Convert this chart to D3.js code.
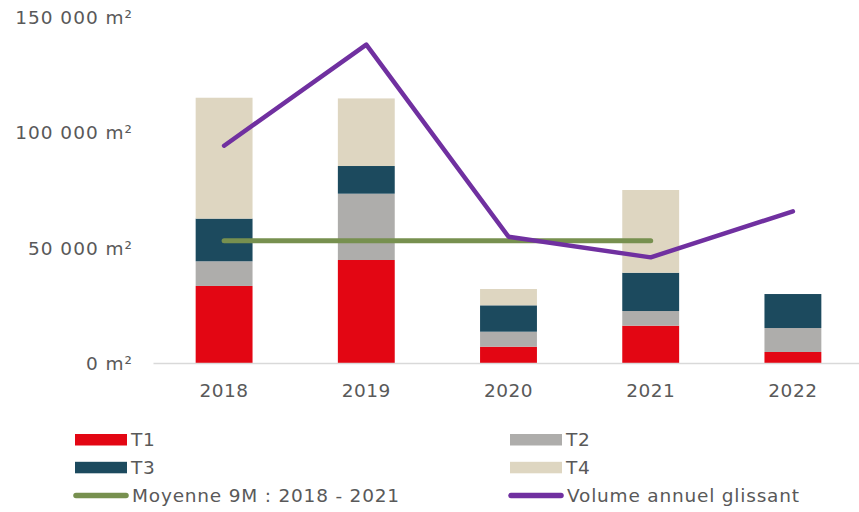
<!DOCTYPE html>
<html>
<head>
<meta charset="utf-8">
<script src="https://cdn.jsdelivr.net/npm/d3@7"></script>
<style>
    body { margin: 0; background: #fff; }
    svg { display: block; }
    svg text { font-family: "DejaVu Sans", sans-serif; fill: #595959; font-size: 18.5px; letter-spacing: 0.5px; }
    .yaxis text { letter-spacing: 1px; }
    .legend text { letter-spacing: 0.8px; }
</style>
</head>
<body>
<div id="chart"></div>
<script>
// categories
var years = ["2018", "2019", "2020", "2021", "2022"];
// stacked series (m²)
var t1 = [33400, 44650, 7070, 16170, 4770],
    t2 = [10700, 28750, 6500, 6370, 10400],
    t3 = [18500, 12000, 11430, 16600, 14730],
    t4 = [52400, 29300, 7080, 35860, 0];
// line series
var moyenne = [53000, 53000, 53000, 53000, null],
    volume = [94200, 138000, 54750, 45800, 65750];
var yTicks = [0, 50000, 100000, 150000];

var width = 859,
    height = 512;

var seriesKeys = ["T1", "T2", "T3", "T4"],
    seriesColors = { T1: "#e30613", T2: "#aeadab", T3: "#1c4a5e", T4: "#ded6c1" };

var rows = years.map(function (y, i) {
    return { year: y, T1: t1[i], T2: t2[i], T3: t3[i], T4: t4[i] };
});

var svg = d3.select("#chart").append("svg")
    .attr("width", width)
    .attr("height", height);

var x = d3.scaleBand()
    .domain(years)
    .range([153, 864])
    .paddingInner(0.6)
    .paddingOuter(0.3);

var y = d3.scaleLinear()
    .domain([0, 150000])
    .range([363, 17]);

var fr = d3.formatLocale({ decimal: ",", thousands: "\u00a0", grouping: [3], currency: ["", " €"] });
var fmt = fr.format(",");

// y axis labels (no line, no ticks)
var yAxis = svg.append("g")
    .attr("class", "yaxis")
    .attr("transform", "translate(133,0)")
    .call(d3.axisLeft(y).tickValues(yTicks).tickSize(0).tickPadding(0)
        .tickFormat(function (d) { return fmt(d) + " m²"; }));
yAxis.attr("font-family", null).attr("font-size", null);
yAxis.select(".domain").remove();
yAxis.selectAll("text").attr("dy", "0.35em");

// stacked bars
var stack = d3.stack().keys(seriesKeys)(rows);

svg.append("g").selectAll("g")
    .data(stack)
    .enter().append("g")
    .attr("fill", function (d) { return seriesColors[d.key]; })
    .selectAll("rect")
    .data(function (d) { return d; })
    .enter().append("rect")
    .attr("x", function (d) { return x(d.data.year); })
    .attr("width", x.bandwidth())
    .attr("y", function (d) { return y(d[1]); })
    .attr("height", function (d) { return y(d[0]) - y(d[1]); });

// x axis
var xAxis = svg.append("g")
    .attr("transform", "translate(0,363)")
    .call(d3.axisBottom(x).tickSize(0).tickPadding(21));
xAxis.attr("font-family", null).attr("font-size", null);
xAxis.select(".domain").attr("stroke", "#d9d9d9").attr("stroke-width", 1.5);

// lines
var cx = function (i) { return x(years[i]) + x.bandwidth() / 2; };

var line = d3.line()
    .defined(function (d) { return d != null; })
    .x(function (d, i) { return cx(i); })
    .y(function (d) { return y(d); });

svg.append("path")
    .datum(moyenne)
    .attr("fill", "none")
    .attr("stroke", "#77904f")
    .attr("stroke-width", 5)
    .attr("stroke-linecap", "round")
    .attr("d", line);

svg.append("path")
    .datum(volume)
    .attr("fill", "none")
    .attr("stroke", "#7030a0")
    .attr("stroke-width", 4.5)
    .attr("stroke-linecap", "round")
    .attr("stroke-linejoin", "round")
    .attr("d", line);

// legend
var legendItems = [
    { label: "T1", color: seriesColors.T1, type: "rect", col: 0, row: 0 },
    { label: "T2", color: seriesColors.T2, type: "rect", col: 1, row: 0 },
    { label: "T3", color: seriesColors.T3, type: "rect", col: 0, row: 1 },
    { label: "T4", color: seriesColors.T4, type: "rect", col: 1, row: 1 },
    { label: "Moyenne 9M : 2018 - 2021", color: "#77904f", type: "line", col: 0, row: 2 },
    { label: "Volume annuel glissant", color: "#7030a0", type: "line", col: 1, row: 2 }
];

var legend = svg.append("g").attr("class", "legend")
    .selectAll("g")
    .data(legendItems)
    .enter().append("g")
    .attr("transform", function (d) {
        return "translate(" + (d.col ? 510 : 75) + "," + (440 + d.row * 27.8) + ")";
    });

legend.filter(function (d) { return d.type === "rect"; })
    .append("rect")
    .attr("x", 0).attr("y", -6)
    .attr("width", 52).attr("height", 11.5)
    .attr("fill", function (d) { return d.color; });

legend.filter(function (d) { return d.type === "line"; })
    .append("line")
    .attr("x1", 1).attr("x2", 51)
    .attr("stroke", function (d) { return d.color; })
    .attr("stroke-width", 5.5)
    .attr("stroke-linecap", "round");

legend.append("text")
    .attr("x", function (d) { return d.type === "line" ? 57 : 56; })
    .attr("dy", "0.35em")
    .text(function (d) { return d.label; });
</script>
</body>
</html>
